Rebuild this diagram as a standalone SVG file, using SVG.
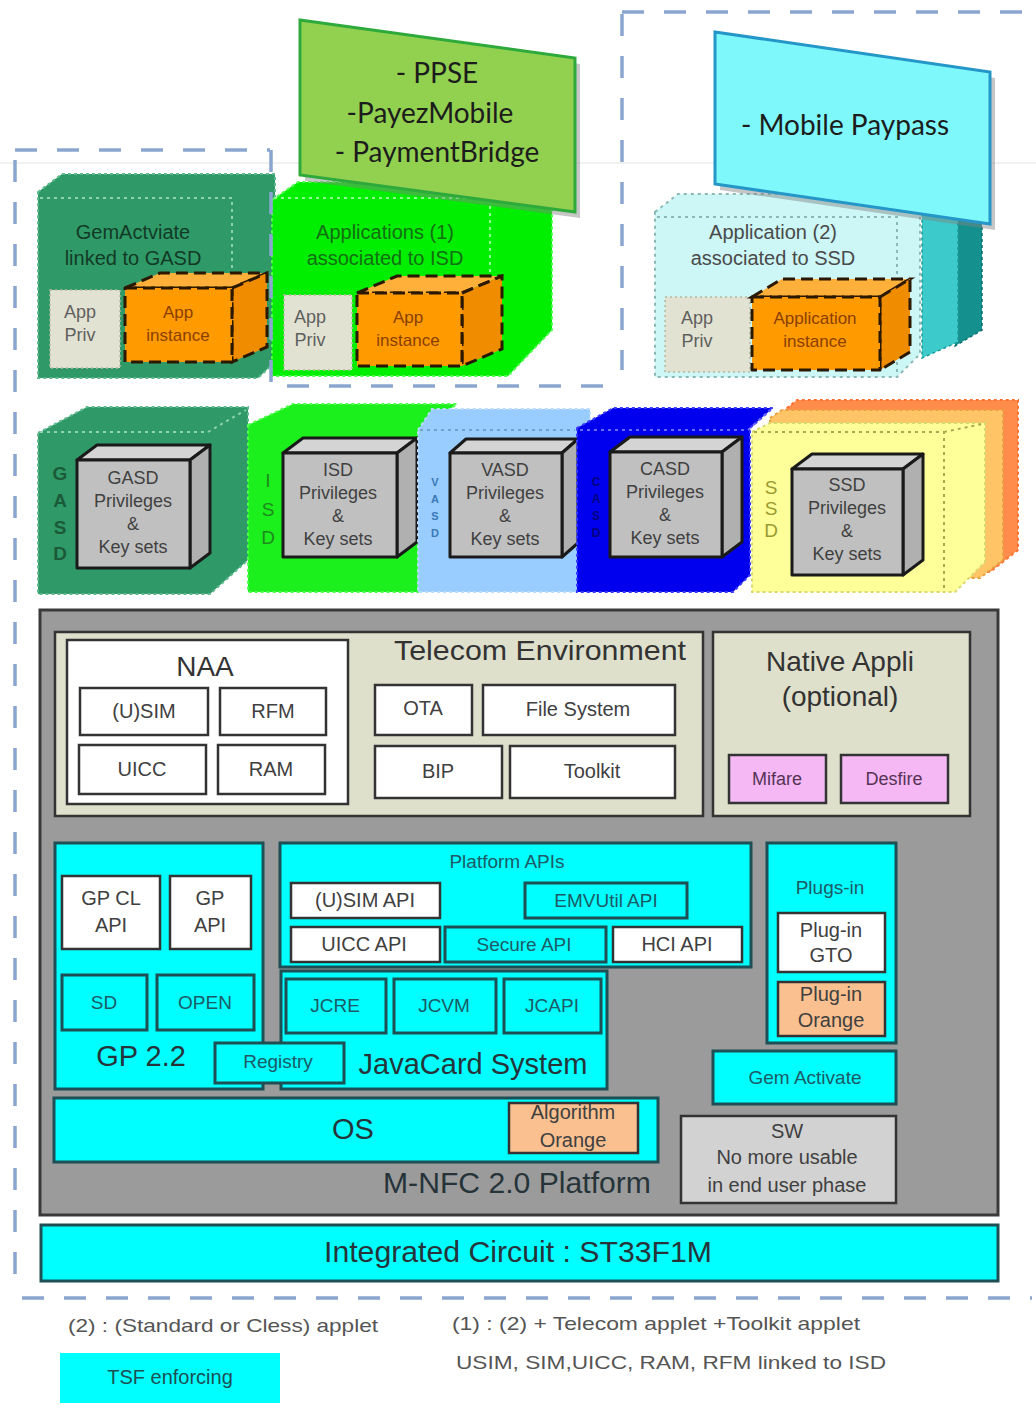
<svg xmlns="http://www.w3.org/2000/svg" width="1036" height="1414" viewBox="0 0 1036 1414">
<defs>
<style>
text{font-family:"Liberation Sans",Arial,sans-serif;text-anchor:middle}
.cal{font-family:Lato,"Open Sans",sans-serif;font-size:28px;fill:#1c1c1c}
.dash{fill:none;stroke:#8aa6d0;stroke-width:3.5;stroke-dasharray:22 20}
.cube{fill:#c0c0c0;stroke:#1a1a1a;stroke-width:3;stroke-linejoin:round}
.cubeT{fill:#d4d4d4;stroke:#1a1a1a;stroke-width:3;stroke-linejoin:round}
.cubeR{fill:#b0b0b0;stroke:#1a1a1a;stroke-width:3;stroke-linejoin:round}
.ct{font-size:18px;fill:#404040}
.inst{fill:#ff9a00;stroke:#2a1800;stroke-width:3;stroke-dasharray:12 6;stroke-linejoin:round}
.instT{fill:#ffb03a;stroke:#2a1800;stroke-width:3;stroke-dasharray:12 6}
.instR{fill:#f08c00;stroke:#2a1800;stroke-width:3;stroke-dasharray:12 6}
.it{font-size:17px;fill:#8a4000}
.priv{fill:#e2e2d2;stroke:#b8b8a0;stroke-width:1.5;stroke-dasharray:2 3}
.pt{font-size:18px;fill:#5f5f5f}
.dot{fill:none;stroke-width:2;stroke-dasharray:3 4}
.wbox{fill:#ffffff;stroke:#333;stroke-width:2.5}
.kbox{fill:#dfe0cc;stroke:#333;stroke-width:2.5}
.cbox{fill:#00ffff;stroke:#1d4f55;stroke-width:3}
.obox{fill:#fac090;stroke:#333;stroke-width:2.5}
.lbl{font-size:20px;fill:#404040}
.tl{font-size:19px;fill:#1d5a66}
.big{font-size:29px;fill:#26343a}
.foot{font-size:19px;fill:#555;text-anchor:start}
</style>
</defs>
<rect width="1036" height="1414" fill="#ffffff"/>
<line x1="0" y1="163" x2="1036" y2="163" stroke="#ececec" stroke-width="1.5"/>

<!-- Applications row -->
<g id="gasd-app">
<polygon points="38,192 62,174 275,174 275,362 258,378 38,378" fill="#2f9a68" stroke="#5fb88e" stroke-width="2" stroke-dasharray="3 3"/>
<path class="dot" d="M40,198 H232 V290" stroke="#8fd0b0"/>
<text x="133" y="239" font-size="20" fill="#123a26">GemActviate</text>
<text x="133" y="265" font-size="20" fill="#123a26">linked to GASD</text>
<rect class="priv" x="50" y="290" width="70" height="78"/>
<text class="pt" x="80" y="318">App</text><text class="pt" x="80" y="341">Priv</text>
<polygon class="instT" points="125,288 160,273 267,273 232,288"/>
<polygon class="instR" points="232,288 267,273 267,347 232,362"/>
<rect class="inst" x="125" y="288" width="107" height="74"/>
<text class="it" x="178" y="318">App</text><text class="it" x="178" y="341">instance</text>
</g>

<g id="isd-app">
<polygon points="272,200 298,182 552,182 552,330 508,376 272,376" fill="#00ee00" stroke="#50ff50" stroke-width="2" stroke-dasharray="3 3"/>
<path class="dot" d="M274,198 H490 V293" stroke="#90ff90"/>
<text x="385" y="239" font-size="20" fill="#137013">Applications (1)</text>
<text x="385" y="265" font-size="20" fill="#137013">associated to ISD</text>
<rect class="priv" x="284" y="295" width="68" height="75"/>
<text class="pt" x="310" y="323">App</text><text class="pt" x="310" y="346">Priv</text>
<polygon class="instT" points="357,293 397,276 502,276 462,293"/>
<polygon class="instR" points="462,293 502,276 502,349 462,366"/>
<rect class="inst" x="357" y="293" width="105" height="73"/>
<text class="it" x="408" y="323">App</text><text class="it" x="408" y="346">instance</text>
</g>

<g id="ssd-app">
<polygon points="948,195 982,195 982,330 955,346" fill="#14908f" stroke="#0d6d6d" stroke-width="1.5" stroke-dasharray="3 3"/>
<polygon points="922,205 958,205 958,342 922,358" fill="#3ccaca" stroke="#1a9a9a" stroke-width="1.5" stroke-dasharray="3 3"/>
<polygon points="655,212 678,194 920,194 920,354 897,377 655,377" fill="#cdf6f6" stroke="#8ab8b8" stroke-width="2" stroke-dasharray="3 4"/>
<path class="dot" d="M657,217 H897 V377" stroke="#8ab8b8"/>
<text x="773" y="239" font-size="20" fill="#4a4a4a">Application (2)</text>
<text x="773" y="265" font-size="20" fill="#4a4a4a">associated to SSD</text>
<rect class="priv" x="665" y="297" width="85" height="75"/>
<text class="pt" x="697" y="324">App</text><text class="pt" x="697" y="347">Priv</text>
<polygon class="instT" points="752,297 782,279 910,279 880,297"/>
<polygon class="instR" points="880,297 910,279 910,352 880,370"/>
<rect class="inst" x="752" y="297" width="128" height="73"/>
<text class="it" x="815" y="324" font-size="16">Application</text><text class="it" x="815" y="347" font-size="16">instance</text>
</g>

<!-- dashed boundaries -->
<g id="boundaries">
<path class="dash" d="M15,150 H270"/>
<path class="dash" d="M15,160 V1288"/>
<path class="dash" d="M22,1298 H1032"/>
<path class="dash" d="M271,150 V386 H622"/>
<path class="dash" d="M622,14 V370"/>
<path class="dash" d="M622,12 H1032"/>
</g>

<!-- payment labels -->
<g id="label-ppse">
<polygon points="305,26 580,64 580,218 305,181" fill="#808080" opacity="0.45"/>
<polygon points="300,20 575,58 575,212 300,175" fill="#92d050" stroke="#2eaa3c" stroke-width="3"/>
<text class="cal" x="437" y="83">- PPSE</text>
<text class="cal" x="430" y="123">-PayezMobile</text>
<text class="cal" x="437" y="162">- PaymentBridge</text>
</g>
<g id="label-paypass">
<polygon points="720,38 995,78 995,230 720,190" fill="#808080" opacity="0.45"/>
<polygon points="715,32 990,72 990,224 715,184" fill="#7ff8fb" stroke="#2596c8" stroke-width="3"/>
<text class="cal" x="845" y="135">- Mobile Paypass</text>
</g>

<!-- Security domains -->
<g id="gasd">
<polygon points="38,433 87,407 248,407 248,560 210,594 38,594" fill="#2f9a68" stroke="#5fb88e" stroke-width="2" stroke-dasharray="3 3"/>
<path class="dot" d="M40,432 H208 L246,410" stroke="#8fd0b0"/>
<g font-size="19" font-weight="bold" fill="#1b5a38"><text x="60" y="480">G</text><text x="60" y="507">A</text><text x="60" y="534">S</text><text x="60" y="560">D</text></g>
<polygon class="cubeT" points="77,460 97,445 210,445 190,460"/>
<polygon class="cubeR" points="190,460 210,445 210,553 190,568"/>
<rect class="cube" x="77" y="460" width="113" height="108"/>
<text class="ct" x="133" y="484">GASD</text><text class="ct" x="133" y="507">Privileges</text><text class="ct" x="133" y="530">&amp;</text><text class="ct" x="133" y="553">Key sets</text>
</g>

<g id="isd">
<polygon points="248,425 293,404 457,404 418,432 418,592 248,592" fill="#1cf01c" stroke="#50ff50" stroke-width="2" stroke-dasharray="3 3"/>
<g font-size="19" fill="#1d8a1d"><text x="268" y="487">I</text><text x="268" y="516">S</text><text x="268" y="544">D</text></g>
<polygon class="cubeT" points="283,453 303,438 417,438 397,453"/>
<polygon class="cubeR" points="397,453 417,438 417,542 397,557"/>
<rect class="cube" x="283" y="453" width="114" height="104"/>
<text class="ct" x="338" y="476">ISD</text><text class="ct" x="338" y="499">Privileges</text><text class="ct" x="338" y="522">&amp;</text><text class="ct" x="338" y="545">Key sets</text>
</g>

<g id="vasd">
<polygon points="418,430 432,409 590,409 590,592 418,592" fill="#99ccff" stroke="#bcdcff" stroke-width="2" stroke-dasharray="3 3"/>
<path class="dot" d="M420,430 H575" stroke="#6fa0d8"/>
<g font-size="11" font-weight="bold" fill="#3a78b8"><text x="435" y="486">V</text><text x="435" y="503">A</text><text x="435" y="520">S</text><text x="435" y="537">D</text></g>
<polygon class="cubeT" points="450,453 466,439 578,439 562,453"/>
<polygon class="cubeR" points="562,453 578,439 578,543 562,557"/>
<rect class="cube" x="450" y="453" width="112" height="104"/>
<text class="ct" x="505" y="476">VASD</text><text class="ct" x="505" y="499">Privileges</text><text class="ct" x="505" y="522">&amp;</text><text class="ct" x="505" y="545">Key sets</text>
</g>

<g id="casd">
<polygon points="577,428 613,408 773,408 750,428 750,575 733,592 577,592" fill="#0000ee" stroke="#3a3aff" stroke-width="2" stroke-dasharray="3 3"/>
<path class="dot" d="M580,430 H748 L770,410" stroke="#6a6aff"/>
<g font-size="12" font-weight="bold" fill="#000080"><text x="596" y="486">C</text><text x="596" y="503">A</text><text x="596" y="520">S</text><text x="596" y="537">D</text></g>
<polygon class="cubeT" points="610,452 630,437 742,437 722,452"/>
<polygon class="cubeR" points="722,452 742,437 742,542 722,557"/>
<rect class="cube" x="610" y="452" width="112" height="105"/>
<text class="ct" x="665" y="475">CASD</text><text class="ct" x="665" y="498">Privileges</text><text class="ct" x="665" y="521">&amp;</text><text class="ct" x="665" y="544">Key sets</text>
</g>

<g id="ssd">
<polygon points="782,412 797,400 1018,400 1018,550 990,572 782,572" fill="#ff8c4a" stroke="#ff7030" stroke-width="2" stroke-dasharray="3 3"/>
<polygon points="770,418 782,410 1003,410 1003,560 980,578 770,578" fill="#ffc466" stroke="#e6a040" stroke-width="2" stroke-dasharray="3 3"/>
<polygon points="752,432 770,423 985,423 985,562 955,592 752,592" fill="#ffff99" stroke="#d8d870" stroke-width="2" stroke-dasharray="3 3"/>
<path class="dot" d="M754,432 H944 V590 M944,432 L982,424" stroke="#a8a850"/>
<g font-size="19" fill="#9a9a30"><text x="771" y="494">S</text><text x="771" y="515">S</text><text x="771" y="537">D</text></g>
<polygon class="cubeT" points="792,469 812,454 923,454 903,469"/>
<polygon class="cubeR" points="903,469 923,454 923,560 903,575"/>
<rect class="cube" x="792" y="469" width="111" height="106"/>
<text class="ct" x="847" y="491">SSD</text><text class="ct" x="847" y="514">Privileges</text><text class="ct" x="847" y="537">&amp;</text><text class="ct" x="847" y="560">Key sets</text>
</g>

<!-- Platform -->
<g id="platform">
<rect x="40" y="610" width="958" height="605" fill="#9b9b9b" stroke="#3a3a3a" stroke-width="3"/>
<text class="big" x="517" y="1193" textLength="268" lengthAdjust="spacingAndGlyphs">M-NFC 2.0 Platform</text>
</g>

<g id="telecom-env">
<rect class="kbox" x="55" y="632" width="648" height="184"/>
<text x="540" y="660" font-size="28" fill="#333" textLength="292" lengthAdjust="spacingAndGlyphs">Telecom Environment</text>
</g>
<g id="naa">
<rect class="wbox" x="67" y="640" width="281" height="164"/>
<text x="205" y="676" font-size="28" fill="#333">NAA</text>
</g>
<g id="usim"><rect class="wbox" x="80" y="688" width="128" height="47"/><text class="lbl" x="144" y="718">(U)SIM</text></g>
<g id="rfm"><rect class="wbox" x="220" y="688" width="106" height="47"/><text class="lbl" x="273" y="718">RFM</text></g>
<g id="uicc"><rect class="wbox" x="79" y="745" width="127" height="49"/><text class="lbl" x="142" y="776">UICC</text></g>
<g id="ram"><rect class="wbox" x="218" y="745" width="107" height="49"/><text class="lbl" x="271" y="776">RAM</text></g>
<g id="ota"><rect class="wbox" x="375" y="685" width="97" height="50"/><text class="lbl" x="423" y="715">OTA</text></g>
<g id="filesystem"><rect class="wbox" x="483" y="685" width="192" height="50"/><text class="lbl" x="578" y="716">File System</text></g>
<g id="bip"><rect class="wbox" x="375" y="746" width="127" height="52"/><text class="lbl" x="438" y="778">BIP</text></g>
<g id="toolkit"><rect class="wbox" x="510" y="746" width="165" height="52"/><text class="lbl" x="592" y="778">Toolkit</text></g>

<g id="native-appli">
<rect class="kbox" x="713" y="632" width="257" height="184"/>
<text x="840" y="671" font-size="28" fill="#333">Native Appli</text>
<text x="840" y="706" font-size="28" fill="#333">(optional)</text>
</g>
<g id="mifare"><rect x="729" y="755" width="97" height="48" fill="#f5b8f5" stroke="#333" stroke-width="2.5"/><text x="777" y="785" font-size="18" fill="#553355">Mifare</text></g>
<g id="desfire"><rect x="841" y="755" width="107" height="48" fill="#f5b8f5" stroke="#333" stroke-width="2.5"/><text x="894" y="785" font-size="18" fill="#553355">Desfire</text></g>

<g id="gp22">
<rect class="cbox" x="55" y="843" width="208" height="246"/>
<text class="big" x="141" y="1066">GP 2.2</text>
</g>
<g id="gpclapi"><rect class="wbox" x="62" y="876" width="98" height="73"/><text class="lbl" x="111" y="905">GP CL</text><text class="lbl" x="111" y="932">API</text></g>
<g id="gpapi"><rect class="wbox" x="170" y="876" width="81" height="73"/><text class="lbl" x="210" y="905">GP</text><text class="lbl" x="210" y="932">API</text></g>
<g id="sd"><rect class="cbox" x="62" y="975" width="85" height="55"/><text class="tl" x="104" y="1009" font-size="20">SD</text></g>
<g id="open"><rect class="cbox" x="157" y="975" width="97" height="55"/><text class="tl" x="205" y="1009" font-size="20">OPEN</text></g>

<g id="platform-apis">
<rect class="cbox" x="280" y="843" width="471" height="124"/>
<text class="tl" x="507" y="868">Platform APIs</text>
</g>
<g id="usim-api"><rect class="wbox" x="291" y="883" width="149" height="35"/><text class="lbl" x="365" y="907" font-size="19">(U)SIM API</text></g>
<g id="emvutil-api"><rect class="cbox" x="525" y="883" width="162" height="35"/><text class="tl" x="606" y="907">EMVUtil API</text></g>
<g id="uicc-api"><rect class="wbox" x="291" y="927" width="149" height="35"/><text class="lbl" x="364" y="951" font-size="19">UICC API</text></g>
<g id="secure-api"><rect class="cbox" x="445" y="927" width="161" height="35"/><text class="tl" x="524" y="951">Secure API</text></g>
<g id="hci-api"><rect class="wbox" x="613" y="927" width="129" height="35"/><text class="lbl" x="677" y="951" font-size="19">HCI API</text></g>

<g id="javacard-system">
<rect class="cbox" x="281" y="971" width="326" height="118"/>
<text class="big" x="473" y="1074">JavaCard System</text>
</g>
<g id="jcre"><rect class="cbox" x="286" y="979" width="100" height="54"/><text class="tl" x="335" y="1012" font-size="20">JCRE</text></g>
<g id="jcvm"><rect class="cbox" x="394" y="979" width="102" height="54"/><text class="tl" x="444" y="1012" font-size="20">JCVM</text></g>
<g id="jcapi"><rect class="cbox" x="504" y="979" width="97" height="54"/><text class="tl" x="552" y="1012" font-size="20">JCAPI</text></g>
<g id="registry"><rect class="cbox" x="215" y="1043" width="129" height="40"/><text class="tl" x="278" y="1068" font-size="18">Registry</text></g>

<g id="plugs-in">
<rect class="cbox" x="767" y="843" width="129" height="200"/>
<text class="tl" x="830" y="894">Plugs-in</text>
</g>
<g id="plugin-gto"><rect class="wbox" x="778" y="913" width="107" height="59"/><text class="lbl" x="831" y="937">Plug-in</text><text class="lbl" x="831" y="962">GTO</text></g>
<g id="plugin-orange"><rect class="obox" x="778" y="982" width="107" height="54"/><text class="lbl" x="831" y="1001">Plug-in</text><text class="lbl" x="831" y="1027">Orange</text></g>
<g id="gem-activate"><rect class="cbox" x="713" y="1051" width="183" height="53"/><text class="tl" x="805" y="1084">Gem Activate</text></g>
<g id="sw">
<rect x="681" y="1116" width="215" height="87" fill="#d2d2d2" stroke="#333" stroke-width="2.5"/>
<text class="lbl" x="787" y="1138" font-size="19">SW</text>
<text class="lbl" x="787" y="1164" font-size="19">No more usable</text>
<text class="lbl" x="787" y="1192" font-size="19">in end user phase</text>
</g>

<g id="os">
<rect class="cbox" x="54" y="1098" width="604" height="64"/>
<text class="big" x="353" y="1139">OS</text>
</g>
<g id="algorithm-orange">
<rect class="obox" x="509" y="1103" width="129" height="50"/>
<text class="lbl" x="573" y="1119" font-size="18">Algorithm</text>
<text class="lbl" x="573" y="1147" font-size="19">Orange</text>
</g>

<g id="integrated-circuit">
<rect class="cbox" x="41" y="1225" width="957" height="56"/>
<text class="big" x="518" y="1262" textLength="388" lengthAdjust="spacingAndGlyphs">Integrated Circuit : ST33F1M</text>
</g>

<!-- legend -->
<g id="legend">
<text class="foot" x="68" y="1332" textLength="310" lengthAdjust="spacingAndGlyphs">(2) : (Standard or Cless) applet</text>
<text class="foot" x="452" y="1330" textLength="408" lengthAdjust="spacingAndGlyphs">(1) : (2) + Telecom applet +Toolkit applet</text>
<text class="foot" x="456" y="1369" textLength="430" lengthAdjust="spacingAndGlyphs">USIM, SIM,UICC, RAM, RFM linked to ISD</text>
<rect x="60" y="1353" width="220" height="50" fill="#00ffff"/>
<text x="170" y="1384" font-size="20" fill="#1d4f55">TSF enforcing</text>
</g>
</svg>
